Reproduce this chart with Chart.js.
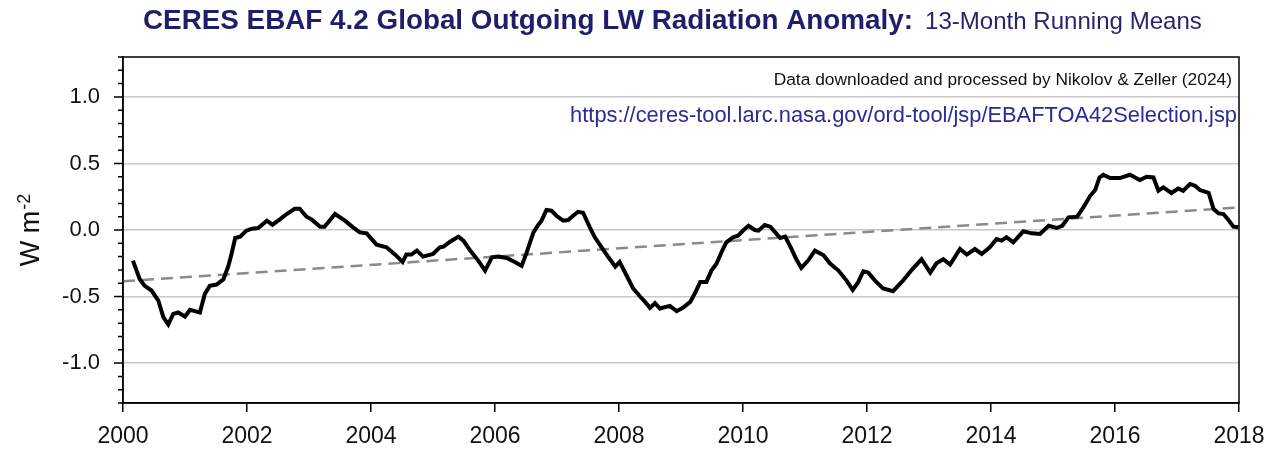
<!DOCTYPE html>
<html lang="en">
<head>
    <meta charset="UTF-8">
    <title>CERES EBAF 4.2 Global Outgoing LW Radiation Anomaly</title>
    <script src="https://cdn.jsdelivr.net/npm/chart.js"></script>
    <style>
        body {
            margin: 0;
            padding: 0;
            background: #fff;
        }
        canvas {
            display: block;
        }
    </style>
</head>
<body>
    <canvas id="lwChart" width="1280" height="452"></canvas>
    <script>
        // 13-month running mean (decimal years, W m-2)
        const years = [
            2000.16, 2000.27, 2000.35, 2000.46, 2000.57, 2000.65, 2000.73, 2000.81, 2000.89, 2001.00,
            2001.08, 2001.16, 2001.24, 2001.32, 2001.40, 2001.51, 2001.62, 2001.70, 2001.75, 2001.81,
            2001.89, 2001.99, 2002.08, 2002.18, 2002.32, 2002.41, 2002.53, 2002.64, 2002.77, 2002.85,
            2002.96, 2003.04, 2003.18, 2003.25, 2003.42, 2003.58, 2003.71, 2003.82, 2003.93, 2004.09,
            2004.25, 2004.39, 2004.51, 2004.57, 2004.65, 2004.74, 2004.84, 2005.00, 2005.11, 2005.17,
            2005.27, 2005.41, 2005.49, 2005.60, 2005.73, 2005.84, 2005.95, 2006.05, 2006.19, 2006.32,
            2006.43, 2006.51, 2006.62, 2006.70, 2006.75, 2006.83, 2006.91, 2006.99, 2007.10, 2007.18,
            2007.26, 2007.34, 2007.42, 2007.53, 2007.61, 2007.72, 2007.83, 2007.94, 2008.01, 2008.12,
            2008.23, 2008.34, 2008.42, 2008.50, 2008.58, 2008.66, 2008.82, 2008.93, 2009.03, 2009.15,
            2009.23, 2009.31, 2009.41, 2009.49, 2009.57, 2009.65, 2009.73, 2009.84, 2009.92, 2010.01,
            2010.09, 2010.19, 2010.25, 2010.35, 2010.44, 2010.52, 2010.60, 2010.68, 2010.78, 2010.86,
            2010.94, 2011.05, 2011.16, 2011.30, 2011.40, 2011.54, 2011.67, 2011.77, 2011.86, 2011.94,
            2012.02, 2012.13, 2012.26, 2012.42, 2012.58, 2012.74, 2012.88, 2013.02, 2013.12, 2013.23,
            2013.34, 2013.50, 2013.61, 2013.74, 2013.85, 2013.98, 2014.09, 2014.17, 2014.25, 2014.36,
            2014.52, 2014.66, 2014.79, 2014.93, 2015.06, 2015.15, 2015.25, 2015.39, 2015.49, 2015.60,
            2015.68, 2015.75, 2015.81, 2015.92, 2016.08, 2016.24, 2016.40, 2016.51, 2016.62, 2016.70,
            2016.78, 2016.91, 2017.02, 2017.10, 2017.21, 2017.29, 2017.37, 2017.51, 2017.59, 2017.67,
            2017.75, 2017.83, 2017.91, 2017.99
        ];
        const anomaly = [
            -0.23, -0.37, -0.42, -0.455, -0.53, -0.655, -0.71, -0.63, -0.62, -0.65,
            -0.60, -0.61, -0.62, -0.48, -0.42, -0.41, -0.37, -0.27, -0.18, -0.06,
            -0.05, -0.005, 0.01, 0.015, 0.07, 0.04, 0.08, 0.12, 0.16, 0.16,
            0.10, 0.08, 0.025, 0.025, 0.12, 0.07, 0.02, -0.018, -0.025, -0.11,
            -0.13, -0.185, -0.24, -0.185, -0.185, -0.155, -0.20, -0.18, -0.13, -0.125,
            -0.09, -0.05, -0.08, -0.155, -0.23, -0.305, -0.205, -0.20, -0.21, -0.24,
            -0.27, -0.17, -0.018, 0.04, 0.07, 0.15, 0.145, 0.107, 0.07, 0.075,
            0.107, 0.137, 0.13, 0.02, -0.055, -0.13, -0.205, -0.275, -0.24, -0.34,
            -0.44, -0.50, -0.54, -0.585, -0.55, -0.59, -0.57, -0.61, -0.585, -0.54,
            -0.47, -0.39, -0.39, -0.305, -0.255, -0.17, -0.093, -0.055, -0.043, 0.0,
            0.032, 0.0, -0.005, 0.037, 0.025, -0.018, -0.06, -0.05, -0.14, -0.22,
            -0.285, -0.23, -0.155, -0.19, -0.25, -0.305, -0.38, -0.45, -0.39, -0.31,
            -0.32, -0.38, -0.44, -0.46, -0.38, -0.29, -0.22, -0.32, -0.25, -0.22,
            -0.26, -0.143, -0.185, -0.143, -0.18, -0.13, -0.068, -0.08, -0.055, -0.093,
            -0.01, -0.025, -0.03, 0.032, 0.015, 0.032, 0.095, 0.10, 0.17, 0.257,
            0.30, 0.395, 0.415, 0.39, 0.39, 0.415, 0.375, 0.40, 0.395, 0.295,
            0.32, 0.278, 0.312, 0.295, 0.345, 0.333, 0.30, 0.28, 0.157, 0.125,
            0.12, 0.075, 0.025, 0.02
        ];

        // linear trend (dashed)
        const trendYears = [2000, 2018];
        const trendValues = [-0.385, 0.17];

        const titleBold = 'CERES EBAF 4.2 Global Outgoing LW Radiation Anomaly:';
        const titleRest = '13-Month Running Means';
        const creditText = 'Data downloaded and processed by Nikolov & Zeller (2024)';
        const sourceUrl = 'https://ceres-tool.larc.nasa.gov/ord-tool/jsp/EBAFTOA42Selection.jsp';

        const FONT = '"Liberation Sans", Arial, sans-serif';

        // font size that makes text fill a given width
        function fitSize(ctx, text, weight, width) {
            ctx.font = weight + ' 100px ' + FONT;
            return 100 * width / ctx.measureText(text).width;
        }

        const isMajor = v => Math.abs(v * 2 - Math.round(v * 2)) < 1e-6;

        const decor = {
            id: 'decor',
            afterDraw(chart) {
                const ctx = chart.ctx;
                const a = chart.chartArea;
                const ys = chart.scales.y;
                ctx.save();

                // y ticks (minor every 0.1, major every 0.5)
                ctx.strokeStyle = '#000';
                ctx.lineWidth = 1.5;
                ctx.beginPath();
                ys.ticks.forEach(t => {
                    const py = ys.getPixelForValue(t.value);
                    const len = isMajor(t.value) ? 9 : 5;
                    ctx.moveTo(a.left - len, py);
                    ctx.lineTo(a.left, py);
                });
                ctx.stroke();

                // frame
                ctx.strokeRect(a.left, a.top, a.right - a.left, a.bottom - a.top);

                // title
                ctx.fillStyle = '#1e1e6c';
                ctx.textBaseline = 'alphabetic';
                ctx.textAlign = 'left';
                let s = fitSize(ctx, titleBold, 'bold', 770);
                ctx.font = 'bold ' + s.toFixed(2) + 'px ' + FONT;
                ctx.fillText(titleBold, 143, 29);
                s = fitSize(ctx, titleRest, 'normal', 277);
                ctx.font = s.toFixed(2) + 'px ' + FONT;
                ctx.fillStyle = '#26266e';
                ctx.fillText(titleRest, 925, 29);

                // notes inside the plot
                ctx.textAlign = 'right';
                ctx.fillStyle = '#111';
                s = fitSize(ctx, creditText, 'normal', 459);
                ctx.font = s.toFixed(2) + 'px ' + FONT;
                ctx.fillText(creditText, 1232, 85);
                ctx.fillStyle = '#2b2b98';
                s = fitSize(ctx, sourceUrl, 'normal', 667);
                ctx.font = s.toFixed(2) + 'px ' + FONT;
                ctx.fillText(sourceUrl, 1237, 122);

                // y axis title: W m^-2
                ctx.translate(39, (a.top + a.bottom) / 2);
                ctx.rotate(-Math.PI / 2);
                ctx.fillStyle = '#111';
                ctx.font = '27px ' + FONT;
                const wMain = ctx.measureText('W m').width;
                ctx.font = '18px ' + FONT;
                const wSup = ctx.measureText('-2').width;
                const x0 = -(wMain + wSup + 1) / 2;
                ctx.textAlign = 'left';
                ctx.font = '27px ' + FONT;
                ctx.fillText('W m', x0, 0);
                ctx.font = '18px ' + FONT;
                ctx.fillText('-2', x0 + wMain + 1, -9);

                ctx.restore();
            }
        };

        const ctx = document.getElementById('lwChart').getContext('2d');
        const lwChart = new Chart(ctx, {
            type: 'line',
            data: {
                datasets: [{
                    label: '13-month running mean',
                    data: years.map((yr, i) => ({ x: yr, y: anomaly[i] })),
                    borderColor: '#000',
                    borderWidth: 4,
                    pointRadius: 0,
                    tension: 0,
                    fill: false
                }, {
                    label: 'trend',
                    data: trendYears.map((yr, i) => ({ x: yr, y: trendValues[i] })),
                    borderColor: '#8a8a8a',
                    borderWidth: 2.5,
                    borderDash: [12, 7],
                    pointRadius: 0,
                    fill: false
                }]
            },
            options: {
                responsive: false,
                animation: false,
                layout: { padding: { top: 57, right: 41, left: 0, bottom: 0 } },
                plugins: {
                    legend: { display: false },
                    tooltip: { enabled: false }
                },
                scales: {
                    x: {
                        type: 'linear',
                        min: 2000,
                        max: 2018,
                        afterFit: scale => { scale.height = 49; },
                        border: { color: '#000', width: 1.5 },
                        grid: {
                            drawOnChartArea: false,
                            tickLength: 9,
                            tickColor: '#000',
                            lineWidth: 1.5
                        },
                        ticks: {
                            stepSize: 2,
                            padding: 11,
                            color: '#111',
                            font: { family: FONT, size: 23 },
                            callback: v => String(v)
                        }
                    },
                    y: {
                        min: -1.3,
                        max: 1.3,
                        afterFit: scale => { scale.width = 123; },
                        border: { color: '#000', width: 1.5 },
                        grid: {
                            drawTicks: false,
                            lineWidth: 1.5,
                            color: c => isMajor(c.tick.value) && Math.abs(c.tick.value) < 1.25 ? '#c8c8c8' : 'rgba(0,0,0,0)'
                        },
                        ticks: {
                            stepSize: 0.1,
                            padding: 23,
                            autoSkip: false,
                            color: '#111',
                            font: { family: FONT, size: 22 },
                            callback: v => isMajor(v) ? v.toFixed(1) : ''
                        }
                    }
                }
            },
            plugins: [decor]
        });
    </script>
</body>
</html>
